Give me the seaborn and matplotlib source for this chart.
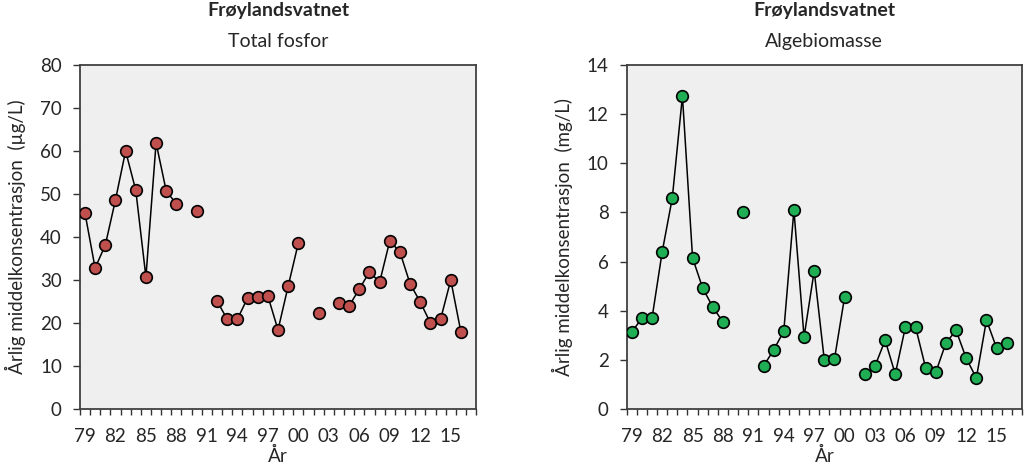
import matplotlib
matplotlib.use('Agg')
import matplotlib.pyplot as plt
import seaborn as sns
import pandas as pd
import numpy as np

years = list(range(1979, 2017))
nan = np.nan

# Total fosfor (µg/L)
fosfor = [45.6, 32.8, 38.1, 48.6, 60.0, 50.9, 30.7, 61.9, 50.7, 47.7,
          nan, 46.0, nan, 25.1, 20.9, 20.9, 25.8, 26.0, 26.3, 18.4,
          28.6, 38.6, nan, 22.3, nan, 24.7, 24.0, 27.9, 31.9, 29.5,
          39.1, 36.5, 29.1, 24.9, 20.0, 20.9, 30.0, 17.9]

# Algebiomasse (mg/L)
alge = [3.13, 3.7, 3.7, 6.39, 8.59, 12.74, 6.15, 4.92, 4.15, 3.54,
        nan, 8.02, nan, 1.75, 2.4, 3.17, 8.1, 2.93, 5.62, 1.99,
        2.03, 4.56, nan, 1.42, 1.75, 2.8, 1.42, 3.34, 3.34, 1.67,
        1.5, 2.69, 3.2, 2.07, 1.26, 3.62, 2.48, 2.69]

tick_years = list(range(1979, 2016, 3))
tick_labels = ['%02d' % (y % 100) for y in tick_years]


def make_df(vals):
    df = pd.DataFrame({'year': years, 'val': vals})
    # nytt segment etter hvert hull
    df['seg'] = df['val'].isna().cumsum()
    return df.dropna()


sns.set_style('white')
plt.rcParams['font.family'] = ['Lato', 'DejaVu Sans']

fig = plt.figure(figsize=(10.24, 4.68), dpi=100)
ax1 = fig.add_axes([0.078, 0.126, 0.387, 0.735])
ax2 = fig.add_axes([0.612, 0.126, 0.386, 0.735])

panels = [
    (ax1, make_df(fosfor), '#c0504d', 'Total fosfor', 'Årlig middelkonsentrasjon  (µg/L)', 80, 10),
    (ax2, make_df(alge), '#1fae54', 'Algebiomasse', 'Årlig middelkonsentrasjon  (mg/L)', 14, 2),
]

for ax, df, col, sub, ylab, ymax, ystep in panels:
    ax.set_facecolor('#efefef')
    sns.lineplot(data=df, x='year', y='val', units='seg', estimator=None,
                 color='black', linewidth=1.1, ax=ax)
    sns.scatterplot(data=df, x='year', y='val', color=col, s=70,
                    edgecolor='black', linewidth=1.2, zorder=3, ax=ax)
    ax.set_xlim(1978.5, 2017.5)
    ax.set_ylim(0, ymax)
    ax.set_yticks(np.arange(0, ymax + 1, ystep))
    ax.set_xticks(tick_years)
    ax.set_xticklabels(tick_labels)
    ax.set_xticks(np.arange(1978.5, 2018, 1), minor=True)
    ax.tick_params(axis='x', which='major', length=0, labelsize=13.5, pad=14)
    ax.tick_params(axis='x', which='minor', length=4, width=1, color='#333333', bottom=True)
    ax.tick_params(axis='y', length=5, width=1, color='#333333', labelsize=13.5, left=True, pad=8)
    for s in ax.spines.values():
        s.set_color('#404040')
        s.set_linewidth(1.3)
    ax.set_xlabel('År', fontsize=13.5, labelpad=1)
    ax.set_ylabel(ylab, fontsize=13.5, labelpad=10)
    ax.set_title('Frøylandsvatnet', fontsize=14, fontweight='bold', pad=35)
    ax.text(0.5, 1.045, sub, transform=ax.transAxes, ha='center', va='bottom', fontsize=14)

fig.savefig('out.png', dpi=100, facecolor='white')
